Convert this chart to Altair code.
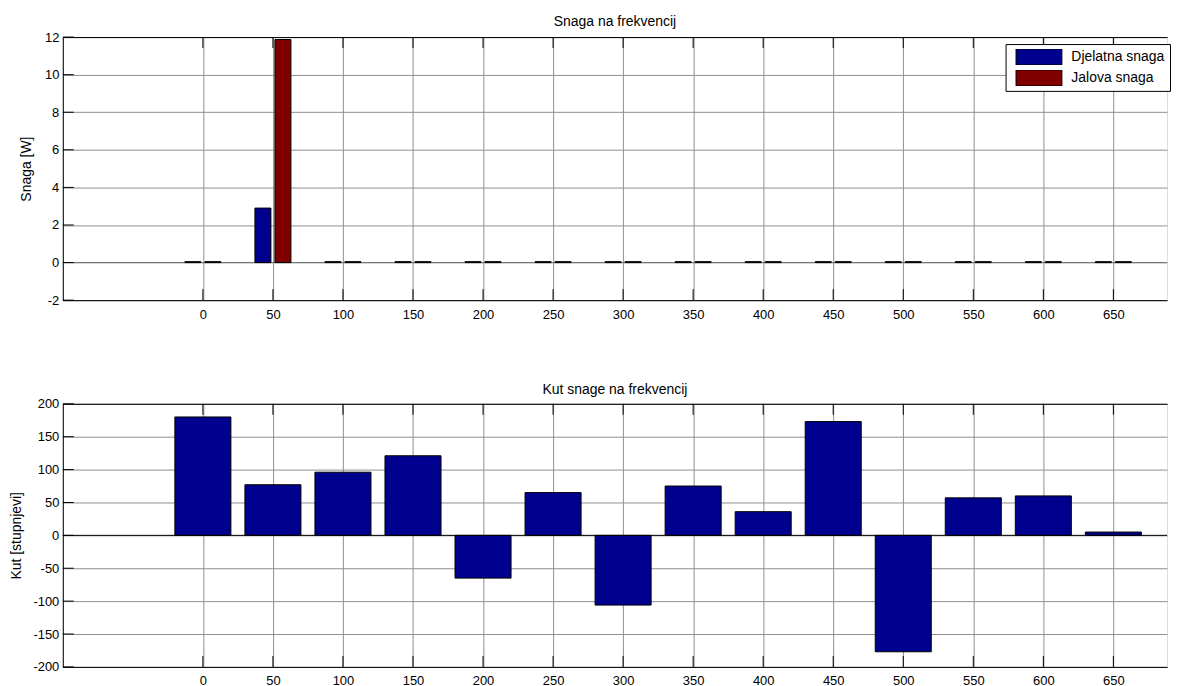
import altair as alt
import pandas as pd

# ---------------- data ----------------
freqs = [0, 50, 100, 150, 200, 250, 300, 350, 400, 450, 500, 550, 600, 650]
djelatna = [0.05, 2.9, 0.05, 0.05, 0.05, 0.05, 0.05, 0.05, 0.05, 0.05, 0.05, 0.05, 0.05, 0.05]
jalova = [0.05, 11.87, 0.05, 0.05, 0.05, 0.05, 0.05, 0.05, 0.05, 0.05, 0.05, 0.05, 0.05, 0.05]
kut = [180, 77, 96, 121, -65, 65, -106, 75, 36, 173, -177, 57, 60, 5]

series_names = ["Djelatna snaga", "Jalova snaga"]
series_colors = ["#00008F", "#800000"]
x_ticks = [0, 50, 100, 150, 200, 250, 300, 350, 400, 450, 500, 550, 600, 650]
y_ticks_top = [-2, 0, 2, 4, 6, 8, 10, 12]
y_ticks_bot = [-200, -150, -100, -50, 0, 50, 100, 150, 200]

# ---------------- style ----------------
FONT = "Liberation Sans"
W, H = 1108, 264
TICK = 11
XDOM = [-100, 688.3]
GRID = "#8f8f8f"
LABEL_EXPR = "'' + datum.value"

xscale = alt.Scale(domain=XDOM, nice=False, zero=False)


def x_axis():
    return alt.Axis(values=x_ticks, title=None, grid=True, gridColor=GRID, gridWidth=1,
                    ticks=False, labelPadding=8, domain=True, domainColor="black",
                    labelFontSize=13, labelColor="black", labelFont=FONT,
                    labelExpr=LABEL_EXPR)


def y_axis(ticks, title, tpad):
    return alt.Axis(values=ticks, title=title, grid=True, gridColor=GRID, gridWidth=1,
                    ticks=False, labelPadding=4, domain=True, domainColor="black",
                    labelFontSize=13, labelColor="black", labelFont=FONT,
                    labelExpr=LABEL_EXPR,
                    titleFontSize=14, titleFont=FONT, titleFontWeight="normal",
                    titleColor="black", titlePadding=tpad)


def frame_layers(yscale, yticks):
    xt = pd.DataFrame({"t": x_ticks})
    yt = pd.DataFrame({"t": yticks})
    top_axis = alt.Axis(orient="top", labels=False, ticks=False, grid=False, title=None,
                        domain=True, domainColor="black")
    tb = alt.Chart(xt).mark_rule(color="black", strokeWidth=1).encode(
        x=alt.X("t:Q", scale=xscale, axis=None), y=alt.value(H), y2=alt.value(H - TICK))
    tt = alt.Chart(xt).mark_rule(color="black", strokeWidth=1).encode(
        x=alt.X("t:Q", scale=xscale, axis=top_axis), y=alt.value(0), y2=alt.value(TICK))
    tl = alt.Chart(yt).mark_rule(color="black", strokeWidth=1).encode(
        y=alt.Y("t:Q", scale=yscale, axis=None), x=alt.value(0), x2=alt.value(TICK))
    return [tb, tt, tl]


def zero_line(yscale, color):
    return alt.Chart(pd.DataFrame({"z": [0]})).mark_rule(color=color, strokeWidth=1).encode(
        y=alt.Y("z:Q", scale=yscale, axis=None))


# ---------------- top panel ----------------
top_df = pd.DataFrame({
    "f": freqs * 2,
    "v": djelatna + jalova,
    "s": [series_names[0]] * len(freqs) + [series_names[1]] * len(freqs),
    "side": [-1] * len(freqs) + [1] * len(freqs),
})
yscale_top = alt.Scale(domain=[-2, 12], nice=False, zero=False)

bars_top = alt.Chart(top_df).transform_calculate(
    x1="datum.f + datum.side * 7.14 - 5.71",
    x2="datum.f + datum.side * 7.14 + 5.71",
).mark_bar(stroke="black", strokeWidth=1).encode(
    x=alt.X("x1:Q", scale=xscale, axis=x_axis()),
    x2="x2:Q",
    y=alt.Y("v:Q", scale=yscale_top, axis=y_axis(y_ticks_top, "Snaga [W]", 10.5), stack=None),
    y2=alt.datum(0),
    color=alt.Color("s:N", scale=alt.Scale(domain=series_names, range=series_colors),
                    legend=alt.Legend(title=None, orient="none", legendX=946, legendY=7,
                                      symbolType="M-1,-0.348H1V0.348H-1Z", symbolSize=2116,
                                      symbolStrokeColor="black", symbolStrokeWidth=1,
                                      symbolOpacity=1, clipHeight=16, rowPadding=5,
                                      padding=5, symbolOffset=5, labelOffset=9,
                                      labelFontSize=14, labelFont=FONT, labelColor="black",
                                      fillColor="white", strokeColor="black", labelLimit=0)),
)

top = alt.layer(
    zero_line(yscale_top, "#6f6f6f"), bars_top, *frame_layers(yscale_top, y_ticks_top)
).resolve_axis(x="independent", y="independent").properties(
    width=W, height=H,
    title=alt.TitleParams("Snaga na frekvencij", fontSize=14, fontWeight="normal",
                          font=FONT, color="black", offset=2, frame="group"),
)

# ---------------- bottom panel ----------------
bot_df = pd.DataFrame({"f": freqs, "v": kut})
yscale_bot = alt.Scale(domain=[-200, 200], nice=False, zero=False)

bars_bot = alt.Chart(bot_df).transform_calculate(
    x1="datum.f - 20", x2="datum.f + 20"
).mark_bar(stroke="black", strokeWidth=1, color=series_colors[0]).encode(
    x=alt.X("x1:Q", scale=xscale, axis=x_axis()),
    x2="x2:Q",
    y=alt.Y("v:Q", scale=yscale_bot, axis=y_axis(y_ticks_bot, "Kut [stupnjevi]", 9.3), stack=None),
    y2=alt.datum(0),
)

bottom = alt.layer(
    bars_bot, zero_line(yscale_bot, "black"), *frame_layers(yscale_bot, y_ticks_bot)
).resolve_axis(x="independent", y="independent").properties(
    width=W, height=H,
    title=alt.TitleParams("Kut snage na frekvencij", fontSize=14, fontWeight="normal",
                          font=FONT, color="black", offset=1, frame="group"),
)

chart = alt.vconcat(top, bottom, spacing=60).properties(
    padding={"left": 1, "top": 5, "right": 0, "bottom": 0}
).configure_view(stroke=None).configure(font=FONT)

chart.save("out.html", embed_options={"renderer": "svg", "actions": False})
